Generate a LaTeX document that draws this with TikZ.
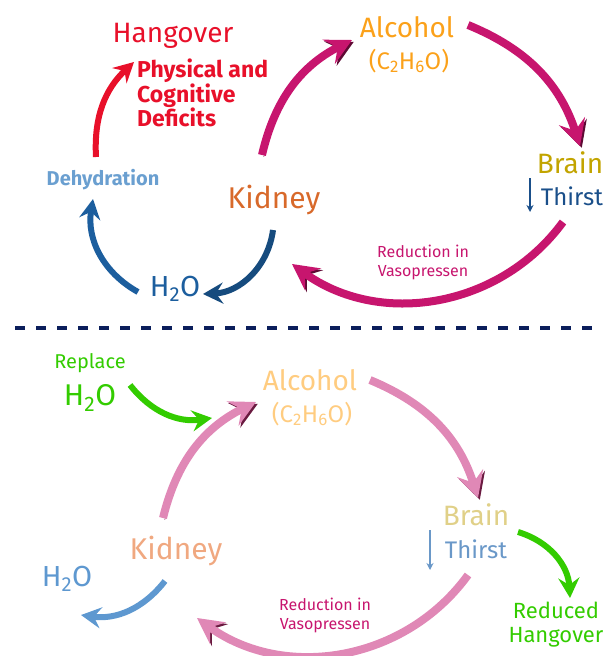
\documentclass[tikz,border=0pt]{standalone}
\usepackage{fontspec}
\setmainfont{Fira Sans}
\usetikzlibrary{arrows.meta}
\definecolor{hangred}{HTML}{E8102A}
\definecolor{alcorange}{HTML}{FBA11A}
\definecolor{brainyel}{HTML}{C2A400}
\definecolor{thirstblue}{HTML}{1A4F8A}
\definecolor{kidorange}{HTML}{D8692A}
\definecolor{dehyblue}{HTML}{6A9FD0}
\definecolor{wetblue}{HTML}{1C5E9E}
\definecolor{vasored}{HTML}{C7156E}
\definecolor{vasodark}{HTML}{5E0A34}
\definecolor{navyline}{HTML}{0B1E5B}
\definecolor{alclight}{HTML}{FFCC80}
\definecolor{brainlight}{HTML}{E0D088}
\definecolor{thirstlight}{HTML}{6A98C8}
\definecolor{kidlight}{HTML}{F0A880}
\definecolor{wetlight}{HTML}{5E98D0}
\definecolor{vasopink}{HTML}{E088B6}
\definecolor{pinkdark}{HTML}{6A1A40}
\definecolor{okgreen}{HTML}{33CC00}
\newcommand\fsz[2]{\fontsize{#1}{#2}\selectfont}

\begin{document}
\begin{tikzpicture}[x=1pt,y=-1pt,
  every node/.style={inner sep=0pt, align=center},
  big/.style={font=\fsz{28}{28}},
  mid/.style={font=\fsz{24}{24}},
  small/.style={font=\fsz{16}{19}},
  arr/.style={line width=6pt, -{Stealth[length=20pt,width=21pt,inset=7pt]}},
  wide/.style={line width=8pt, -{Stealth[length=26pt,width=27pt,inset=10pt]},
    preaction={draw=#1, transform canvas={shift={(1.8pt,-1.8pt)}}}},
  tiny/.style={line width=2pt, -{Stealth[length=7pt,width=7pt]}}]
\useasboundingbox (0,0) rectangle (606,656);

\node[big, text=hangred] (hang) at (173,36) {Hangover};
\node[font=\bfseries\fsz{23}{22}, text=hangred, align=left, anchor=west] (defs) at (137,93) {Physical and\\Cognitive\\Deficits};
\node[big, text=alcorange] (alc) at (407,27) {Alcohol};
\node[mid, text=alcorange] (form) at (409,61) {(C\textsubscript{2}H\textsubscript{6}O)};
\node[big, text=brainyel] (brain) at (570,163) {Brain};
\node[mid, text=thirstblue] (thirst) at (572,196) {Thirst};
\node[font=\fsz{30}{30}, text=kidorange] (kid) at (274,200) {Kidney};
\node[font=\bfseries\fsz{20}{20}, text=dehyblue] (dehy) at (103,180) {Dehydration};
\node[font=\fsz{29}{29}, text=wetblue] (wat) at (175,289) {H\textsubscript{2}O};
\node[small, text=vasored] (vaso) at (423,262) {Reduction in\\Vasopressen};

\coordinate (r1) at (96,157); \coordinate (r2) at (134,62);
\coordinate (b1) at (138,292); \coordinate (b2) at (93,199);
\coordinate (k1) at (273,230); \coordinate (k2) at (203,294);
\coordinate (m1) at (262,155); \coordinate (m2) at (352,40);
\coordinate (m3) at (468,25); \coordinate (m4) at (580,146);
\coordinate (m5) at (563,222); \coordinate (m6) at (292,264);
\coordinate (t1) at (530,178); \coordinate (t2) at (530,212);

\draw[arr, hangred] (r1) to[bend left=25] (r2);
\draw[arr, wetblue] (b1) to[bend left=35] (b2);
\draw[arr, wetblue!80!black] (k1) to[bend left=40] (k2);
\draw[wide=vasodark, vasored] (m1) to[bend left=25] (m2);
\draw[wide=vasodark, vasored] (m3) to[bend left=25] (m4);
\draw[wide=vasodark, vasored] (m5) to[bend left=45] (m6);
\draw[tiny, thirstblue] (t1) -- (t2);

\coordinate (d1) at (15,328); \coordinate (d2) at (592,328);
\draw[navyline, line width=4pt, dash pattern=on 10pt off 11pt] (d1) -- (d2);

\node[font=\fsz{20}{20}, text=okgreen] (repl) at (90,363) {Replace};
\node[font=\fsz{30}{30}, text=okgreen] (wat2) at (90,398) {H\textsubscript{2}O};
\node[big, text=alclight] (alc2) at (310,380) {Alcohol};
\node[mid, text=alclight] (form2) at (312,414) {(C\textsubscript{2}H\textsubscript{6}O)};
\node[big, text=brainlight] (brain2) at (476,515) {Brain};
\node[mid, text=thirstlight] (thirst2) at (476,549) {Thirst};
\node[font=\fsz{22}{24}, text=okgreen] (redu) at (556,625) {Reduced\\Hangover};
\node[font=\fsz{30}{30}, text=kidlight] (kid2) at (176,551) {Kidney};
\node[font=\fsz{29}{29}, text=wetlight] (wat3) at (67,579) {H\textsubscript{2}O};
\node[small, text=vasored] (vaso2) at (325,615) {Reduction in\\Vasopressen};

\coordinate (g1) at (130,385); \coordinate (g2) at (212,418);
\coordinate (g3) at (518,532); \coordinate (g4) at (570,598);
\coordinate (l1) at (165,581); \coordinate (l2) at (81,615);
\coordinate (p1) at (163,518); \coordinate (p2) at (256,402);
\coordinate (p3) at (370,380); \coordinate (p4) at (478,498);
\coordinate (p5) at (468,575); \coordinate (p6) at (197,618);
\coordinate (s1) at (430,530); \coordinate (s2) at (430,570);

\draw[arr, okgreen] (g1) to[bend right=30] (g2);
\draw[arr, okgreen] (g3) to[bend left=35] (g4);
\draw[arr, wetlight] (l1) to[bend left=30] (l2);
\draw[wide=pinkdark, vasopink] (p1) to[bend left=25] (p2);
\draw[wide=pinkdark, vasopink] (p3) to[bend left=25] (p4);
\draw[wide=pinkdark, vasopink] (p5) to[bend left=45] (p6);
\draw[tiny, thirstlight] (s1) -- (s2);
\end{tikzpicture}
\end{document}
